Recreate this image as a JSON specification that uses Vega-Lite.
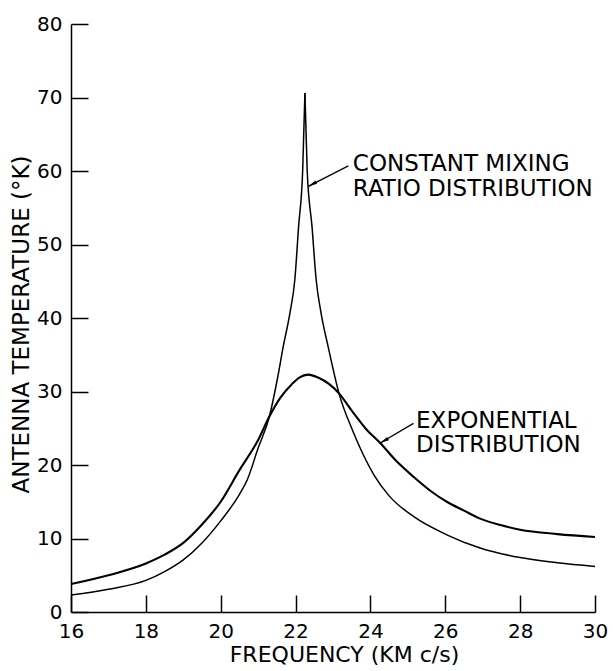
{
  "$schema": "https://vega.github.io/schema/vega-lite/v6.json",
  "width": 524,
  "height": 588,
  "autosize": {"type": "none"},
  "padding": {"left": 71, "top": 24, "right": 18, "bottom": 59},
  "background": "white",
  "config": {
    "view": {"stroke": null},
    "font": "DejaVu Sans",
    "axis": {
      "grid": false,
      "domainColor": "black",
      "domainWidth": 1.5,
      "tickColor": "black",
      "tickWidth": 1.5,
      "labelColor": "black",
      "labelFont": "DejaVu Sans",
      "labelFontSize": 20,
      "labelFlush": false,
      "labelOverlap": false,
      "titleColor": "black",
      "titleFont": "DejaVu Sans",
      "titleFontSize": 23,
      "titleFontWeight": "normal"
    }
  },
  "datasets": {
    "curves": [
      {"series": "constant", "branch": "left", "freq": 16, "temp": 2.3},
      {"series": "constant", "branch": "left", "freq": 17, "temp": 3.1},
      {"series": "constant", "branch": "left", "freq": 18, "temp": 4.3},
      {"series": "constant", "branch": "left", "freq": 18.5, "temp": 5.5},
      {"series": "constant", "branch": "left", "freq": 19, "temp": 7.1},
      {"series": "constant", "branch": "left", "freq": 19.5, "temp": 9.4},
      {"series": "constant", "branch": "left", "freq": 20, "temp": 12.4},
      {"series": "constant", "branch": "left", "freq": 20.5, "temp": 16.0},
      {"series": "constant", "branch": "left", "freq": 20.71, "temp": 18.0},
      {"series": "constant", "branch": "left", "freq": 21.0, "temp": 22.3},
      {"series": "constant", "branch": "left", "freq": 21.3, "temp": 26.6},
      {"series": "constant", "branch": "left", "freq": 21.51, "temp": 31.6},
      {"series": "constant", "branch": "left", "freq": 21.67, "temp": 36.1},
      {"series": "constant", "branch": "left", "freq": 21.85, "temp": 40.7},
      {"series": "constant", "branch": "left", "freq": 21.98, "temp": 45.2},
      {"series": "constant", "branch": "left", "freq": 22.08, "temp": 52.4},
      {"series": "constant", "branch": "left", "freq": 22.19, "temp": 60.1},
      {"series": "constant", "branch": "left", "freq": 22.25, "temp": 70.6},
      {"series": "constant", "branch": "right", "freq": 22.25, "temp": 70.6},
      {"series": "constant", "branch": "right", "freq": 22.31, "temp": 60.1},
      {"series": "constant", "branch": "right", "freq": 22.44, "temp": 52.4},
      {"series": "constant", "branch": "right", "freq": 22.55, "temp": 45.2},
      {"series": "constant", "branch": "right", "freq": 22.68, "temp": 40.7},
      {"series": "constant", "branch": "right", "freq": 22.87, "temp": 36.1},
      {"series": "constant", "branch": "right", "freq": 23.16, "temp": 29.75},
      {"series": "constant", "branch": "right", "freq": 23.54, "temp": 24.5},
      {"series": "constant", "branch": "right", "freq": 23.8, "temp": 21.5},
      {"series": "constant", "branch": "right", "freq": 24.1, "temp": 18.6},
      {"series": "constant", "branch": "right", "freq": 24.5, "temp": 15.8},
      {"series": "constant", "branch": "right", "freq": 25.15, "temp": 13.0},
      {"series": "constant", "branch": "right", "freq": 26.04, "temp": 10.5},
      {"series": "constant", "branch": "right", "freq": 26.93, "temp": 8.7},
      {"series": "constant", "branch": "right", "freq": 28.0, "temp": 7.4},
      {"series": "constant", "branch": "right", "freq": 29.0, "temp": 6.7},
      {"series": "constant", "branch": "right", "freq": 30.0, "temp": 6.2},
      {"series": "exponential", "branch": "all", "freq": 16, "temp": 3.8},
      {"series": "exponential", "branch": "all", "freq": 17, "temp": 5.0},
      {"series": "exponential", "branch": "all", "freq": 18, "temp": 6.6},
      {"series": "exponential", "branch": "all", "freq": 18.5, "temp": 7.8},
      {"series": "exponential", "branch": "all", "freq": 19, "temp": 9.4},
      {"series": "exponential", "branch": "all", "freq": 19.5, "temp": 11.9},
      {"series": "exponential", "branch": "all", "freq": 20, "temp": 15.0},
      {"series": "exponential", "branch": "all", "freq": 20.5, "temp": 19.3},
      {"series": "exponential", "branch": "all", "freq": 21.0, "temp": 23.4},
      {"series": "exponential", "branch": "all", "freq": 21.3, "temp": 26.6},
      {"series": "exponential", "branch": "all", "freq": 21.6, "temp": 29.2},
      {"series": "exponential", "branch": "all", "freq": 21.9, "temp": 31.0},
      {"series": "exponential", "branch": "all", "freq": 22.1, "temp": 31.9},
      {"series": "exponential", "branch": "all", "freq": 22.34, "temp": 32.3},
      {"series": "exponential", "branch": "all", "freq": 22.6, "temp": 31.9},
      {"series": "exponential", "branch": "all", "freq": 22.9, "temp": 31.0},
      {"series": "exponential", "branch": "all", "freq": 23.16, "temp": 29.75},
      {"series": "exponential", "branch": "all", "freq": 23.5, "temp": 27.4},
      {"series": "exponential", "branch": "all", "freq": 23.9, "temp": 24.8},
      {"series": "exponential", "branch": "all", "freq": 24.26, "temp": 23.0},
      {"series": "exponential", "branch": "all", "freq": 24.7, "temp": 20.5},
      {"series": "exponential", "branch": "all", "freq": 25.15, "temp": 18.4},
      {"series": "exponential", "branch": "all", "freq": 25.6, "temp": 16.5},
      {"series": "exponential", "branch": "all", "freq": 26.04, "temp": 15.0},
      {"series": "exponential", "branch": "all", "freq": 26.5, "temp": 13.8},
      {"series": "exponential", "branch": "all", "freq": 26.93, "temp": 12.7},
      {"series": "exponential", "branch": "all", "freq": 27.5, "temp": 11.8},
      {"series": "exponential", "branch": "all", "freq": 28.0, "temp": 11.2},
      {"series": "exponential", "branch": "all", "freq": 29.0, "temp": 10.6},
      {"series": "exponential", "branch": "all", "freq": 30.0, "temp": 10.2}
    ],
    "labels": [
      {"freq": 23.53, "temp": 59.95, "text": "CONSTANT MIXING"},
      {"freq": 23.53, "temp": 56.65, "text": "RATIO DISTRIBUTION"},
      {"freq": 25.22, "temp": 25.1, "text": "EXPONENTIAL"},
      {"freq": 25.22, "temp": 21.8, "text": "DISTRIBUTION"}
    ],
    "arrows": [
      {"freq": 23.41, "temp": 60.7, "freq2": 22.34, "temp2": 57.9},
      {"freq": 25.15, "temp": 25.67, "freq2": 24.26, "temp2": 23.0}
    ]
  },
  "layer": [
    {
      "data": {"name": "curves"},
      "transform": [{"filter": "datum.series === 'constant'"}],
      "mark": {"type": "line", "color": "black", "strokeWidth": 1.5, "interpolate": "monotone"},
      "encoding": {
        "x": {
          "field": "freq", "type": "quantitative",
          "scale": {"domain": [16, 30], "nice": false, "zero": false},
          "axis": {
            "values": [16, 17, 18, 19, 20, 21, 22, 23, 24, 25, 26, 27, 28, 29, 30],
            "labelExpr": "datum.value % 2 === 0 ? datum.label : ''",
            "tickSize": -17,
            "labelPadding": 26,
            "format": "d",
            "encode": {"ticks": {"update": {"y2": {"signal": "datum.value % 2 === 0 ? -17 : -10"}}}},
            "title": "FREQUENCY (KM c/s)",
            "titleFontSize": 22,
            "titleX": 273,
            "titleY": 49,
            "titleBaseline": "alphabetic"
          }
        },
        "y": {
          "field": "temp", "type": "quantitative",
          "scale": {"domain": [0, 80], "nice": false},
          "axis": {
            "values": [0, 5, 10, 15, 20, 25, 30, 35, 40, 45, 50, 55, 60, 65, 70, 75, 80],
            "labelExpr": "datum.value % 10 === 0 ? datum.label : ''",
            "tickSize": -17,
            "labelPadding": 26,
            "format": "d",
            "encode": {"ticks": {"update": {"x2": {"signal": "datum.value % 10 === 0 ? 17 : 11"}}}},
            "title": "ANTENNA TEMPERATURE (°K)",
            "titleAngle": -90,
            "titleX": -43,
            "titleY": 300,
            "titleAlign": "center",
            "titleBaseline": "alphabetic"
          }
        },
        "detail": {"field": "branch"}
      }
    },
    {
      "data": {"name": "curves"},
      "transform": [{"filter": "datum.series === 'exponential'"}],
      "mark": {"type": "line", "color": "black", "strokeWidth": 2.1, "interpolate": "monotone"},
      "encoding": {
        "x": {"field": "freq", "type": "quantitative"},
        "y": {"field": "temp", "type": "quantitative"}
      }
    },
    {
      "data": {"name": "labels"},
      "mark": {"type": "text", "align": "left", "baseline": "alphabetic", "font": "DejaVu Sans", "fontSize": 23, "color": "black"},
      "encoding": {
        "x": {"field": "freq", "type": "quantitative"},
        "y": {"field": "temp", "type": "quantitative"},
        "text": {"field": "text"}
      }
    },
    {
      "data": {"name": "arrows"},
      "mark": {"type": "rule", "color": "black", "strokeWidth": 1.3},
      "encoding": {
        "x": {"field": "freq", "type": "quantitative"},
        "y": {"field": "temp", "type": "quantitative"},
        "x2": {"field": "freq2"},
        "y2": {"field": "temp2"}
      }
    },
    {
      "data": {"name": "arrows"},
      "mark": {"type": "point", "shape": "M0,0L0.45,2.2L-0.45,2.2Z", "filled": true, "color": "black", "opacity": 1, "size": 67, "angle": 241},
      "encoding": {
        "x": {"field": "freq2", "type": "quantitative"},
        "y": {"field": "temp2", "type": "quantitative"}
      }
    }
  ]
}
